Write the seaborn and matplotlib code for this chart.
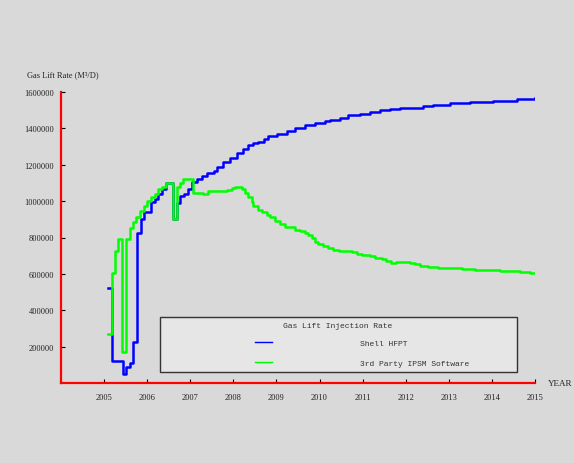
import pandas as pd
import seaborn as sns
import matplotlib.pyplot as plt
from matplotlib.patches import Rectangle

# Werte (Stufenfunktion, Jahr -> Rate)
shell_years = [2005.08, 2005.18, 2005.43, 2005.51, 2005.60, 2005.68, 2005.76, 2005.85, 2005.93,
               2006.08, 2006.17, 2006.25, 2006.34, 2006.43, 2006.61, 2006.69, 2006.77, 2006.86, 2006.94,
               2007.03, 2007.15, 2007.27, 2007.38, 2007.54, 2007.61, 2007.77, 2007.92,
               2008.08, 2008.23, 2008.35, 2008.46, 2008.58, 2008.70, 2008.81,
               2009.01, 2009.24, 2009.43, 2009.66, 2009.90,
               2010.13, 2010.24, 2010.48, 2010.67, 2010.94,
               2011.17, 2011.40, 2011.64, 2011.87,
               2012.02, 2012.41, 2012.64, 2013.03, 2013.49, 2014.03, 2014.58, 2015.00]
shell_rate = [520000, 122000, 49000, 90000, 109000, 228000, 825000, 900000, 938000,
              993000, 1010000, 1040000, 1065000, 1102000, 900000, 990000, 1030000, 1040000, 1065000,
              1105000, 1124000, 1138000, 1157000, 1165000, 1190000, 1215000, 1239000,
              1266000, 1288000, 1306000, 1317000, 1324000, 1342000, 1360000,
              1371000, 1384000, 1403000, 1417000, 1430000,
              1443000, 1448000, 1457000, 1471000, 1479000,
              1490000, 1499000, 1504000, 1510000,
              1514000, 1524000, 1530000, 1539000, 1546000, 1552000, 1563000, 1565000]

ipsm_years = [2005.08, 2005.18, 2005.25, 2005.33, 2005.42, 2005.50, 2005.59, 2005.67, 2005.74, 2005.83, 2005.92,
              2006.00, 2006.09, 2006.18, 2006.26, 2006.35, 2006.44, 2006.61, 2006.69, 2006.76, 2006.84,
              2007.07, 2007.30, 2007.42, 2007.85, 2007.96,
              2008.04, 2008.19, 2008.27, 2008.35, 2008.43, 2008.46, 2008.58, 2008.66, 2008.77, 2008.85, 2008.96,
              2009.08, 2009.20, 2009.43, 2009.55, 2009.66, 2009.74, 2009.82, 2009.90, 2009.97,
              2010.09, 2010.20, 2010.32, 2010.44, 2010.75, 2010.86, 2010.98,
              2011.17, 2011.29, 2011.44, 2011.54, 2011.66, 2011.77,
              2012.10, 2012.22, 2012.33, 2012.52, 2012.75,
              2013.03, 2013.31, 2013.61, 2013.96, 2014.19, 2014.42, 2014.65, 2014.88, 2015.00]
ipsm_rate = [269000, 606000, 728000, 792000, 169000, 792000, 851000, 883000, 911000, 947000, 975000,
             1000000, 1020000, 1040000, 1065000, 1080000, 1102000, 902000, 1075000, 1102000, 1120000,
             1047000, 1040000, 1053000, 1062000, 1071000,
             1080000, 1065000, 1044000, 1020000, 993000, 971000, 952000, 938000, 925000, 911000, 892000,
             874000, 860000, 843000, 834000, 825000, 814000, 796000, 778000, 765000,
             756000, 743000, 734000, 727000, 720000, 710000, 705000,
             698000, 689000, 680000, 672000, 662000, 667000,
             660000, 652000, 646000, 640000, 635000,
             630000, 627000, 622000, 619000, 617000, 615000, 611000, 606000, 604000]

series_names = ["Shell HFPT", "3rd Party IPSM Software"]
series_colors = {"Shell HFPT": "#0000ff", "3rd Party IPSM Software": "#00ff00"}
x_ticks = list(range(2005, 2016))
y_ticks = list(range(200000, 1600001, 200000))

df = pd.concat([
    pd.DataFrame({"year": shell_years, "rate": shell_rate, "series": series_names[0]}),
    pd.DataFrame({"year": ipsm_years, "rate": ipsm_rate, "series": series_names[1]}),
], ignore_index=True)

bg = "#d9d9d9"
plt.rcParams["font.family"] = ["Liberation Serif", "DejaVu Serif"]

fig = plt.figure(figsize=(5.74, 4.64), dpi=100, facecolor=bg)
W, H = 574, 464
ax = fig.add_axes([61 / W, 1 - 384 / H, (535 - 61) / W, (384 - 93) / H])
ax.set_facecolor(bg)

sns.lineplot(data=df, x="year", y="rate", hue="series", hue_order=series_names,
             palette=series_colors, drawstyle="steps-post", linewidth=1.8,
             estimator=None, sort=False, legend=False, ax=ax)

ax.set_xlim(2004, 2015)
ax.set_ylim(0, 1600000)
ax.set_xticks(x_ticks)
ax.set_yticks(y_ticks)
ax.set_xticklabels([str(t) for t in x_ticks])
ax.set_yticklabels([str(t) for t in y_ticks])
ax.set_xlabel("")
ax.set_ylabel("")
ax.tick_params(axis="both", direction="in", length=3, width=0.8, color="black",
               labelsize=6, labelcolor="#222222")
ax.tick_params(axis="x", pad=7)
ax.tick_params(axis="y", pad=5)

for s in ["top", "right"]:
    ax.spines[s].set_visible(False)
for s in ["left", "bottom"]:
    ax.spines[s].set_color("red")
    ax.spines[s].set_linewidth(1.6)

# Achsentitel
fig.text(27 / W, 1 - 75 / H, "Gas Lift Rate (M³/D)", fontsize=6, va="center", ha="left", color="#222222")
fig.text(548 / W, 1 - 384 / H, "YEAR", fontsize=6.5, va="center", ha="left", color="#222222")

# Legendenkasten
box = Rectangle((160 / W, 1 - 373 / H), (517 - 160) / W, (373 - 318) / H,
                transform=fig.transFigure, facecolor="#e6e6e6",
                edgecolor="#333333", linewidth=1.0, zorder=3, clip_on=False)
ax.add_patch(box)
ax.text(338 / W, 1 - 327 / H, "Gas Lift Injection Rate", transform=fig.transFigure,
        fontsize=5.75, family="Liberation Mono", ha="center", va="center",
        color="#333333", zorder=4)
leg = ax.legend(handles=ax.get_lines(), labels=series_names, loc="upper left",
                bbox_to_anchor=(255 / W, 1 - 340 / H), bbox_transform=fig.transFigure,
                frameon=False, borderpad=0, borderaxespad=0, handlelength=2.1,
                handletextpad=11, labelspacing=1.6,
                prop={"family": "Liberation Mono", "size": 5.75})
for line in leg.get_lines():
    line.set_linewidth(1.0)
for t in leg.get_texts():
    t.set_color("#333333")
leg.set_zorder(5)

fig.savefig("out.png", dpi=100, facecolor=bg)
